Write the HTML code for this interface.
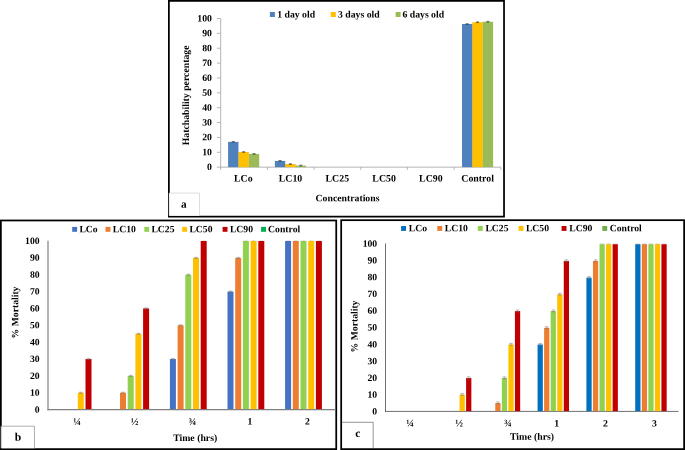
<!DOCTYPE html>
<html><head><meta charset="utf-8"><title>Figure</title>
<style>
html,body{margin:0;padding:0;background:#fff;}
body{width:685px;height:450px;overflow:hidden;}
svg{display:block;}
svg text{font-family:"Liberation Serif",serif;font-weight:bold;fill:#000;}
</style></head><body>
<svg width="685" height="450" viewBox="0 0 685 450">
<rect x="0" y="0" width="685" height="450" fill="#fff"/>
<defs><filter id="soft" x="0" y="0" width="1" height="1" color-interpolation-filters="sRGB"><feGaussianBlur stdDeviation="0.4"/></filter></defs>
<g filter="url(#soft)">
<rect x="168.88" y="0.88" width="335.15" height="215.75" fill="#fff" stroke="#000" stroke-width="1.75"/>
<rect x="0.88" y="220.47" width="335.35" height="228.65" fill="#fff" stroke="#000" stroke-width="1.75"/>
<rect x="341.18" y="220.18" width="342.95" height="228.95" fill="#fff" stroke="#000" stroke-width="1.75"/>
<line x1="220.70" y1="18.50" x2="220.70" y2="169.75" stroke="#adadad" stroke-width="0.9"/>
<line x1="216.90" y1="167.15" x2="500.80" y2="167.15" stroke="#adadad" stroke-width="0.9"/>
<text transform="translate(211.90,170.10) rotate(0.03)" font-size="9.75" text-anchor="end" >0</text>
<line x1="216.90" y1="152.28" x2="220.70" y2="152.28" stroke="#adadad" stroke-width="0.9"/>
<text transform="translate(211.90,155.23) rotate(0.03)" font-size="9.75" text-anchor="end" >10</text>
<line x1="216.90" y1="137.42" x2="220.70" y2="137.42" stroke="#adadad" stroke-width="0.9"/>
<text transform="translate(211.90,140.37) rotate(0.03)" font-size="9.75" text-anchor="end" >20</text>
<line x1="216.90" y1="122.56" x2="220.70" y2="122.56" stroke="#adadad" stroke-width="0.9"/>
<text transform="translate(211.90,125.51) rotate(0.03)" font-size="9.75" text-anchor="end" >30</text>
<line x1="216.90" y1="107.69" x2="220.70" y2="107.69" stroke="#adadad" stroke-width="0.9"/>
<text transform="translate(211.90,110.64) rotate(0.03)" font-size="9.75" text-anchor="end" >40</text>
<line x1="216.90" y1="92.83" x2="220.70" y2="92.83" stroke="#adadad" stroke-width="0.9"/>
<text transform="translate(211.90,95.78) rotate(0.03)" font-size="9.75" text-anchor="end" >50</text>
<line x1="216.90" y1="77.96" x2="220.70" y2="77.96" stroke="#adadad" stroke-width="0.9"/>
<text transform="translate(211.90,80.91) rotate(0.03)" font-size="9.75" text-anchor="end" >60</text>
<line x1="216.90" y1="63.09" x2="220.70" y2="63.09" stroke="#adadad" stroke-width="0.9"/>
<text transform="translate(211.90,66.05) rotate(0.03)" font-size="9.75" text-anchor="end" >70</text>
<line x1="216.90" y1="48.23" x2="220.70" y2="48.23" stroke="#adadad" stroke-width="0.9"/>
<text transform="translate(211.90,51.18) rotate(0.03)" font-size="9.75" text-anchor="end" >80</text>
<line x1="216.90" y1="33.36" x2="220.70" y2="33.36" stroke="#adadad" stroke-width="0.9"/>
<text transform="translate(211.90,36.31) rotate(0.03)" font-size="9.75" text-anchor="end" >90</text>
<line x1="216.90" y1="18.50" x2="220.70" y2="18.50" stroke="#adadad" stroke-width="0.9"/>
<text transform="translate(211.90,21.45) rotate(0.03)" font-size="9.75" text-anchor="end" >100</text>
<line x1="267.38" y1="167.15" x2="267.38" y2="169.75" stroke="#adadad" stroke-width="0.9"/>
<line x1="314.07" y1="167.15" x2="314.07" y2="169.75" stroke="#adadad" stroke-width="0.9"/>
<line x1="360.75" y1="167.15" x2="360.75" y2="169.75" stroke="#adadad" stroke-width="0.9"/>
<line x1="407.43" y1="167.15" x2="407.43" y2="169.75" stroke="#adadad" stroke-width="0.9"/>
<line x1="454.12" y1="167.15" x2="454.12" y2="169.75" stroke="#adadad" stroke-width="0.9"/>
<line x1="500.80" y1="167.15" x2="500.80" y2="169.75" stroke="#adadad" stroke-width="0.9"/>
<text transform="translate(243.35,181.60) rotate(0.03)" font-size="9.85" text-anchor="middle" >LCo</text>
<rect x="228.09" y="141.88" width="10.37" height="25.27" fill="#4F81BD"/>
<rect x="238.31" y="151.99" width="0.40" height="15.16" fill="#4F81BD"/>
<line x1="233.28" y1="141.48" x2="233.28" y2="142.28" stroke="#2a2a2a" stroke-width="0.5"/>
<line x1="231.73" y1="141.48" x2="234.83" y2="141.48" stroke="#2a2a2a" stroke-width="0.5"/>
<line x1="231.73" y1="142.28" x2="234.83" y2="142.28" stroke="#2a2a2a" stroke-width="0.5"/>
<rect x="238.47" y="151.99" width="10.37" height="15.16" fill="#FFC000"/>
<rect x="248.69" y="153.92" width="0.40" height="13.23" fill="#FFC000"/>
<line x1="243.65" y1="151.59" x2="243.65" y2="152.39" stroke="#2a2a2a" stroke-width="0.5"/>
<line x1="242.10" y1="151.59" x2="245.20" y2="151.59" stroke="#2a2a2a" stroke-width="0.5"/>
<line x1="242.10" y1="152.39" x2="245.20" y2="152.39" stroke="#2a2a2a" stroke-width="0.5"/>
<rect x="248.84" y="153.92" width="10.37" height="13.23" fill="#9BBB59"/>
<line x1="254.02" y1="153.52" x2="254.02" y2="154.32" stroke="#2a2a2a" stroke-width="0.5"/>
<line x1="252.47" y1="153.52" x2="255.57" y2="153.52" stroke="#2a2a2a" stroke-width="0.5"/>
<line x1="252.47" y1="154.32" x2="255.57" y2="154.32" stroke="#2a2a2a" stroke-width="0.5"/>
<text transform="translate(290.53,181.60) rotate(0.03)" font-size="9.85" text-anchor="middle" >LC10</text>
<rect x="274.88" y="160.91" width="10.37" height="6.24" fill="#4F81BD"/>
<rect x="285.10" y="164.03" width="0.40" height="3.12" fill="#4F81BD"/>
<line x1="280.06" y1="160.51" x2="280.06" y2="161.31" stroke="#2a2a2a" stroke-width="0.5"/>
<line x1="278.51" y1="160.51" x2="281.61" y2="160.51" stroke="#2a2a2a" stroke-width="0.5"/>
<line x1="278.51" y1="161.31" x2="281.61" y2="161.31" stroke="#2a2a2a" stroke-width="0.5"/>
<rect x="285.25" y="164.03" width="10.37" height="3.12" fill="#FFC000"/>
<rect x="295.47" y="165.51" width="0.40" height="1.64" fill="#FFC000"/>
<line x1="290.43" y1="163.63" x2="290.43" y2="164.43" stroke="#2a2a2a" stroke-width="0.5"/>
<line x1="288.88" y1="163.63" x2="291.98" y2="163.63" stroke="#2a2a2a" stroke-width="0.5"/>
<line x1="288.88" y1="164.43" x2="291.98" y2="164.43" stroke="#2a2a2a" stroke-width="0.5"/>
<rect x="295.62" y="165.51" width="10.37" height="1.64" fill="#9BBB59"/>
<line x1="300.80" y1="165.11" x2="300.80" y2="165.91" stroke="#2a2a2a" stroke-width="0.5"/>
<line x1="299.25" y1="165.11" x2="302.35" y2="165.11" stroke="#2a2a2a" stroke-width="0.5"/>
<line x1="299.25" y1="165.91" x2="302.35" y2="165.91" stroke="#2a2a2a" stroke-width="0.5"/>
<text transform="translate(337.31,181.60) rotate(0.03)" font-size="9.85" text-anchor="middle" >LC25</text>
<text transform="translate(384.09,181.60) rotate(0.03)" font-size="9.85" text-anchor="middle" >LC50</text>
<text transform="translate(430.87,181.60) rotate(0.03)" font-size="9.85" text-anchor="middle" >LC90</text>
<text transform="translate(477.65,181.60) rotate(0.03)" font-size="9.85" text-anchor="middle" >Control</text>
<rect x="462.00" y="24.00" width="10.37" height="143.15" fill="#4F81BD"/>
<rect x="472.22" y="24.00" width="0.40" height="143.15" fill="#4F81BD"/>
<line x1="467.18" y1="23.60" x2="467.18" y2="24.40" stroke="#2a2a2a" stroke-width="0.5"/>
<line x1="465.63" y1="23.60" x2="468.73" y2="23.60" stroke="#2a2a2a" stroke-width="0.5"/>
<line x1="465.63" y1="24.40" x2="468.73" y2="24.40" stroke="#2a2a2a" stroke-width="0.5"/>
<rect x="472.37" y="22.22" width="10.37" height="144.93" fill="#FFC000"/>
<rect x="482.59" y="22.22" width="0.40" height="144.93" fill="#FFC000"/>
<line x1="477.55" y1="21.82" x2="477.55" y2="22.62" stroke="#2a2a2a" stroke-width="0.5"/>
<line x1="476.00" y1="21.82" x2="479.10" y2="21.82" stroke="#2a2a2a" stroke-width="0.5"/>
<line x1="476.00" y1="22.62" x2="479.10" y2="22.62" stroke="#2a2a2a" stroke-width="0.5"/>
<rect x="482.74" y="21.77" width="10.37" height="145.38" fill="#9BBB59"/>
<line x1="487.92" y1="21.37" x2="487.92" y2="22.17" stroke="#2a2a2a" stroke-width="0.5"/>
<line x1="486.37" y1="21.37" x2="489.47" y2="21.37" stroke="#2a2a2a" stroke-width="0.5"/>
<line x1="486.37" y1="22.17" x2="489.47" y2="22.17" stroke="#2a2a2a" stroke-width="0.5"/>
<rect x="269.90" y="12.00" width="5.00" height="5.00" fill="#4F81BD"/>
<text transform="translate(277.20,17.40) rotate(0.03)" font-size="9.75" text-anchor="start" >1 day old</text>
<rect x="330.80" y="12.00" width="5.00" height="5.00" fill="#FFC000"/>
<text transform="translate(338.00,17.40) rotate(0.03)" font-size="9.75" text-anchor="start" >3 days old</text>
<rect x="395.60" y="12.00" width="5.00" height="5.00" fill="#9BBB59"/>
<text transform="translate(402.40,17.40) rotate(0.03)" font-size="9.75" text-anchor="start" >6 days old</text>
<text transform="translate(347.50,201.20) rotate(0.03)" font-size="9.75" text-anchor="middle" >Concentrations</text>
<text transform="translate(189.0,95.4) rotate(-89.97)" font-size="9.75" text-anchor="middle">Hatchability percentage</text>
<rect x="169.0" y="193.1" width="30.5" height="22.6" fill="#fff"/>
<polyline points="169.2,215.7 169.2,193.1 199.5,193.1 199.5,215.7" fill="none" stroke="#d0d0d0" stroke-width="0.7"/>
<text transform="translate(183.90,207.85) rotate(0.03)" font-size="11.3" text-anchor="middle" >a</text>
<line x1="48.00" y1="240.80" x2="48.00" y2="410.20" stroke="#808080" stroke-width="1.2"/>
<line x1="47.40" y1="409.60" x2="335.50" y2="409.60" stroke="#808080" stroke-width="1.2"/>
<text transform="translate(39.60,412.75) rotate(0.03)" font-size="9.7" text-anchor="end" >0</text>
<text transform="translate(39.60,395.87) rotate(0.03)" font-size="9.7" text-anchor="end" >10</text>
<text transform="translate(39.60,378.99) rotate(0.03)" font-size="9.7" text-anchor="end" >20</text>
<text transform="translate(39.60,362.11) rotate(0.03)" font-size="9.7" text-anchor="end" >30</text>
<text transform="translate(39.60,345.23) rotate(0.03)" font-size="9.7" text-anchor="end" >40</text>
<text transform="translate(39.60,328.35) rotate(0.03)" font-size="9.7" text-anchor="end" >50</text>
<text transform="translate(39.60,311.47) rotate(0.03)" font-size="9.7" text-anchor="end" >60</text>
<text transform="translate(39.60,294.59) rotate(0.03)" font-size="9.7" text-anchor="end" >70</text>
<text transform="translate(39.60,277.71) rotate(0.03)" font-size="9.7" text-anchor="end" >80</text>
<text transform="translate(39.60,260.83) rotate(0.03)" font-size="9.7" text-anchor="end" >90</text>
<text transform="translate(39.60,243.95) rotate(0.03)" font-size="9.7" text-anchor="end" >100</text>
<rect x="77.80" y="392.74" width="6.00" height="16.36" fill="#FFC000"/>
<line x1="80.80" y1="392.19" x2="80.80" y2="393.29" stroke="#7a7a7a" stroke-width="0.5"/>
<line x1="79.00" y1="392.19" x2="82.60" y2="392.19" stroke="#7a7a7a" stroke-width="0.5"/>
<line x1="79.00" y1="393.29" x2="82.60" y2="393.29" stroke="#7a7a7a" stroke-width="0.5"/>
<rect x="85.50" y="359.02" width="6.00" height="50.08" fill="#C00000"/>
<line x1="88.50" y1="358.47" x2="88.50" y2="359.57" stroke="#7a7a7a" stroke-width="0.5"/>
<line x1="86.70" y1="358.47" x2="90.30" y2="358.47" stroke="#7a7a7a" stroke-width="0.5"/>
<line x1="86.70" y1="359.57" x2="90.30" y2="359.57" stroke="#7a7a7a" stroke-width="0.5"/>
<rect x="120.00" y="392.74" width="6.00" height="16.36" fill="#ED7D31"/>
<line x1="123.00" y1="392.19" x2="123.00" y2="393.29" stroke="#7a7a7a" stroke-width="0.5"/>
<line x1="121.20" y1="392.19" x2="124.80" y2="392.19" stroke="#7a7a7a" stroke-width="0.5"/>
<line x1="121.20" y1="393.29" x2="124.80" y2="393.29" stroke="#7a7a7a" stroke-width="0.5"/>
<rect x="127.70" y="375.88" width="6.00" height="33.22" fill="#92D050"/>
<line x1="130.70" y1="375.33" x2="130.70" y2="376.43" stroke="#7a7a7a" stroke-width="0.5"/>
<line x1="128.90" y1="375.33" x2="132.50" y2="375.33" stroke="#7a7a7a" stroke-width="0.5"/>
<line x1="128.90" y1="376.43" x2="132.50" y2="376.43" stroke="#7a7a7a" stroke-width="0.5"/>
<rect x="135.40" y="333.73" width="6.00" height="75.37" fill="#FFC000"/>
<line x1="138.40" y1="333.18" x2="138.40" y2="334.28" stroke="#7a7a7a" stroke-width="0.5"/>
<line x1="136.60" y1="333.18" x2="140.20" y2="333.18" stroke="#7a7a7a" stroke-width="0.5"/>
<line x1="136.60" y1="334.28" x2="140.20" y2="334.28" stroke="#7a7a7a" stroke-width="0.5"/>
<rect x="143.10" y="308.44" width="6.00" height="100.66" fill="#C00000"/>
<line x1="146.10" y1="307.89" x2="146.10" y2="308.99" stroke="#7a7a7a" stroke-width="0.5"/>
<line x1="144.30" y1="307.89" x2="147.90" y2="307.89" stroke="#7a7a7a" stroke-width="0.5"/>
<line x1="144.30" y1="308.99" x2="147.90" y2="308.99" stroke="#7a7a7a" stroke-width="0.5"/>
<rect x="169.90" y="359.02" width="6.00" height="50.08" fill="#4472C4"/>
<line x1="172.90" y1="358.47" x2="172.90" y2="359.57" stroke="#7a7a7a" stroke-width="0.5"/>
<line x1="171.10" y1="358.47" x2="174.70" y2="358.47" stroke="#7a7a7a" stroke-width="0.5"/>
<line x1="171.10" y1="359.57" x2="174.70" y2="359.57" stroke="#7a7a7a" stroke-width="0.5"/>
<rect x="177.60" y="325.30" width="6.00" height="83.80" fill="#ED7D31"/>
<line x1="180.60" y1="324.75" x2="180.60" y2="325.85" stroke="#7a7a7a" stroke-width="0.5"/>
<line x1="178.80" y1="324.75" x2="182.40" y2="324.75" stroke="#7a7a7a" stroke-width="0.5"/>
<line x1="178.80" y1="325.85" x2="182.40" y2="325.85" stroke="#7a7a7a" stroke-width="0.5"/>
<rect x="185.30" y="274.72" width="6.00" height="134.38" fill="#92D050"/>
<line x1="188.30" y1="274.17" x2="188.30" y2="275.27" stroke="#7a7a7a" stroke-width="0.5"/>
<line x1="186.50" y1="274.17" x2="190.10" y2="274.17" stroke="#7a7a7a" stroke-width="0.5"/>
<line x1="186.50" y1="275.27" x2="190.10" y2="275.27" stroke="#7a7a7a" stroke-width="0.5"/>
<rect x="193.00" y="257.86" width="6.00" height="151.24" fill="#FFC000"/>
<line x1="196.00" y1="257.31" x2="196.00" y2="258.41" stroke="#7a7a7a" stroke-width="0.5"/>
<line x1="194.20" y1="257.31" x2="197.80" y2="257.31" stroke="#7a7a7a" stroke-width="0.5"/>
<line x1="194.20" y1="258.41" x2="197.80" y2="258.41" stroke="#7a7a7a" stroke-width="0.5"/>
<rect x="200.70" y="241.00" width="6.00" height="168.10" fill="#C00000"/>
<line x1="201.90" y1="240.75" x2="205.50" y2="240.75" stroke="rgba(90,90,90,0.45)" stroke-width="0.5"/>
<rect x="227.50" y="291.58" width="6.00" height="117.52" fill="#4472C4"/>
<line x1="230.50" y1="291.03" x2="230.50" y2="292.13" stroke="#7a7a7a" stroke-width="0.5"/>
<line x1="228.70" y1="291.03" x2="232.30" y2="291.03" stroke="#7a7a7a" stroke-width="0.5"/>
<line x1="228.70" y1="292.13" x2="232.30" y2="292.13" stroke="#7a7a7a" stroke-width="0.5"/>
<rect x="235.20" y="257.86" width="6.00" height="151.24" fill="#ED7D31"/>
<line x1="238.20" y1="257.31" x2="238.20" y2="258.41" stroke="#7a7a7a" stroke-width="0.5"/>
<line x1="236.40" y1="257.31" x2="240.00" y2="257.31" stroke="#7a7a7a" stroke-width="0.5"/>
<line x1="236.40" y1="258.41" x2="240.00" y2="258.41" stroke="#7a7a7a" stroke-width="0.5"/>
<rect x="242.90" y="241.00" width="6.00" height="168.10" fill="#92D050"/>
<line x1="244.10" y1="240.75" x2="247.70" y2="240.75" stroke="rgba(90,90,90,0.45)" stroke-width="0.5"/>
<rect x="250.60" y="241.00" width="6.00" height="168.10" fill="#FFC000"/>
<line x1="251.80" y1="240.75" x2="255.40" y2="240.75" stroke="rgba(90,90,90,0.45)" stroke-width="0.5"/>
<rect x="258.30" y="241.00" width="6.00" height="168.10" fill="#C00000"/>
<line x1="259.50" y1="240.75" x2="263.10" y2="240.75" stroke="rgba(90,90,90,0.45)" stroke-width="0.5"/>
<rect x="285.10" y="241.00" width="6.00" height="168.10" fill="#4472C4"/>
<line x1="286.30" y1="240.75" x2="289.90" y2="240.75" stroke="rgba(90,90,90,0.45)" stroke-width="0.5"/>
<rect x="292.80" y="241.00" width="6.00" height="168.10" fill="#ED7D31"/>
<line x1="294.00" y1="240.75" x2="297.60" y2="240.75" stroke="rgba(90,90,90,0.45)" stroke-width="0.5"/>
<rect x="300.50" y="241.00" width="6.00" height="168.10" fill="#92D050"/>
<line x1="301.70" y1="240.75" x2="305.30" y2="240.75" stroke="rgba(90,90,90,0.45)" stroke-width="0.5"/>
<rect x="308.20" y="241.00" width="6.00" height="168.10" fill="#FFC000"/>
<line x1="309.40" y1="240.75" x2="313.00" y2="240.75" stroke="rgba(90,90,90,0.45)" stroke-width="0.5"/>
<rect x="315.90" y="241.00" width="6.00" height="168.10" fill="#C00000"/>
<line x1="317.10" y1="240.75" x2="320.70" y2="240.75" stroke="rgba(90,90,90,0.45)" stroke-width="0.5"/>
<text transform="translate(77.10,425.10) rotate(0.03)" font-size="10.3" text-anchor="middle" >¼</text>
<text transform="translate(134.70,425.10) rotate(0.03)" font-size="10.3" text-anchor="middle" >½</text>
<text transform="translate(192.30,425.10) rotate(0.03)" font-size="10.3" text-anchor="middle" >¾</text>
<text transform="translate(249.90,424.60) rotate(0.03)" font-size="9.7" text-anchor="middle" >1</text>
<text transform="translate(307.50,424.60) rotate(0.03)" font-size="9.7" text-anchor="middle" >2</text>
<text transform="translate(195.20,440.90) rotate(0.03)" font-size="9.78" text-anchor="middle" >Time (hrs)</text>
<text transform="translate(18.2,312.5) rotate(-89.97)" font-size="9.7" text-anchor="middle">% Mortality</text>
<rect x="72.20" y="226.90" width="4.90" height="4.90" fill="#4472C4"/>
<text transform="translate(79.40,232.30) rotate(0.03)" font-size="9.7" text-anchor="start" >LCo</text>
<rect x="105.50" y="226.90" width="4.90" height="4.90" fill="#ED7D31"/>
<text transform="translate(112.70,232.30) rotate(0.03)" font-size="9.7" text-anchor="start" >LC10</text>
<rect x="144.30" y="226.90" width="4.90" height="4.90" fill="#92D050"/>
<text transform="translate(151.40,232.30) rotate(0.03)" font-size="9.7" text-anchor="start" >LC25</text>
<rect x="182.20" y="226.90" width="4.90" height="4.90" fill="#FFC000"/>
<text transform="translate(189.40,232.30) rotate(0.03)" font-size="9.7" text-anchor="start" >LC50</text>
<rect x="222.60" y="226.90" width="4.90" height="4.90" fill="#C00000"/>
<text transform="translate(229.90,232.30) rotate(0.03)" font-size="9.7" text-anchor="start" >LC90</text>
<rect x="261.10" y="226.90" width="4.90" height="4.90" fill="#00B050"/>
<text transform="translate(268.10,232.30) rotate(0.03)" font-size="9.7" text-anchor="start" >Control</text>
<rect x="0.9" y="426.2" width="33.6" height="22.05" fill="#fff"/>
<polyline points="1.1,448.2 1.1,426.2 34.45,426.2 34.45,448.2" fill="none" stroke="#8a8a8a" stroke-width="0.7"/>
<text transform="translate(17.90,440.70) rotate(0.03)" font-size="11.7" text-anchor="middle" >b</text>
<line x1="385.50" y1="243.50" x2="385.50" y2="411.77" stroke="#404040" stroke-width="0.75"/>
<line x1="385.12" y1="411.40" x2="678.50" y2="411.40" stroke="#404040" stroke-width="0.75"/>
<text transform="translate(377.20,414.55) rotate(0.03)" font-size="9.7" text-anchor="end" >0</text>
<text transform="translate(377.20,397.76) rotate(0.03)" font-size="9.7" text-anchor="end" >10</text>
<text transform="translate(377.20,380.97) rotate(0.03)" font-size="9.7" text-anchor="end" >20</text>
<text transform="translate(377.20,364.18) rotate(0.03)" font-size="9.7" text-anchor="end" >30</text>
<text transform="translate(377.20,347.39) rotate(0.03)" font-size="9.7" text-anchor="end" >40</text>
<text transform="translate(377.20,330.60) rotate(0.03)" font-size="9.7" text-anchor="end" >50</text>
<text transform="translate(377.20,313.81) rotate(0.03)" font-size="9.7" text-anchor="end" >60</text>
<text transform="translate(377.20,297.02) rotate(0.03)" font-size="9.7" text-anchor="end" >70</text>
<text transform="translate(377.20,280.23) rotate(0.03)" font-size="9.7" text-anchor="end" >80</text>
<text transform="translate(377.20,263.44) rotate(0.03)" font-size="9.7" text-anchor="end" >90</text>
<text transform="translate(377.20,246.65) rotate(0.03)" font-size="9.7" text-anchor="end" >100</text>
<rect x="459.55" y="394.68" width="5.25" height="16.45" fill="#FFC000"/>
<line x1="462.17" y1="393.58" x2="462.17" y2="395.38" stroke="#7a7a7a" stroke-width="0.5"/>
<line x1="460.37" y1="393.58" x2="463.97" y2="393.58" stroke="#7a7a7a" stroke-width="0.5"/>
<line x1="460.37" y1="395.38" x2="463.97" y2="395.38" stroke="#7a7a7a" stroke-width="0.5"/>
<rect x="466.10" y="377.96" width="5.25" height="33.16" fill="#C00000"/>
<line x1="468.72" y1="376.86" x2="468.72" y2="378.66" stroke="#7a7a7a" stroke-width="0.5"/>
<line x1="466.92" y1="376.86" x2="470.52" y2="376.86" stroke="#7a7a7a" stroke-width="0.5"/>
<line x1="466.92" y1="378.66" x2="470.52" y2="378.66" stroke="#7a7a7a" stroke-width="0.5"/>
<rect x="495.28" y="403.04" width="5.25" height="8.08" fill="#ED7D31"/>
<line x1="497.91" y1="401.94" x2="497.91" y2="403.74" stroke="#7a7a7a" stroke-width="0.5"/>
<line x1="496.11" y1="401.94" x2="499.71" y2="401.94" stroke="#7a7a7a" stroke-width="0.5"/>
<line x1="496.11" y1="403.74" x2="499.71" y2="403.74" stroke="#7a7a7a" stroke-width="0.5"/>
<rect x="501.83" y="377.96" width="5.25" height="33.16" fill="#92D050"/>
<line x1="504.46" y1="376.86" x2="504.46" y2="378.66" stroke="#7a7a7a" stroke-width="0.5"/>
<line x1="502.66" y1="376.86" x2="506.26" y2="376.86" stroke="#7a7a7a" stroke-width="0.5"/>
<line x1="502.66" y1="378.66" x2="506.26" y2="378.66" stroke="#7a7a7a" stroke-width="0.5"/>
<rect x="508.38" y="344.52" width="5.25" height="66.60" fill="#FFC000"/>
<line x1="511.01" y1="343.42" x2="511.01" y2="345.22" stroke="#7a7a7a" stroke-width="0.5"/>
<line x1="509.21" y1="343.42" x2="512.81" y2="343.42" stroke="#7a7a7a" stroke-width="0.5"/>
<line x1="509.21" y1="345.22" x2="512.81" y2="345.22" stroke="#7a7a7a" stroke-width="0.5"/>
<rect x="514.93" y="311.08" width="5.25" height="100.04" fill="#C00000"/>
<line x1="517.56" y1="309.98" x2="517.56" y2="311.78" stroke="#7a7a7a" stroke-width="0.5"/>
<line x1="515.76" y1="309.98" x2="519.36" y2="309.98" stroke="#7a7a7a" stroke-width="0.5"/>
<line x1="515.76" y1="311.78" x2="519.36" y2="311.78" stroke="#7a7a7a" stroke-width="0.5"/>
<rect x="537.57" y="344.52" width="5.25" height="66.60" fill="#0070C0"/>
<line x1="540.19" y1="343.42" x2="540.19" y2="345.22" stroke="#7a7a7a" stroke-width="0.5"/>
<line x1="538.39" y1="343.42" x2="541.99" y2="343.42" stroke="#7a7a7a" stroke-width="0.5"/>
<line x1="538.39" y1="345.22" x2="541.99" y2="345.22" stroke="#7a7a7a" stroke-width="0.5"/>
<rect x="544.12" y="327.80" width="5.25" height="83.32" fill="#ED7D31"/>
<line x1="546.74" y1="326.70" x2="546.74" y2="328.50" stroke="#7a7a7a" stroke-width="0.5"/>
<line x1="544.94" y1="326.70" x2="548.54" y2="326.70" stroke="#7a7a7a" stroke-width="0.5"/>
<line x1="544.94" y1="328.50" x2="548.54" y2="328.50" stroke="#7a7a7a" stroke-width="0.5"/>
<rect x="550.67" y="311.08" width="5.25" height="100.04" fill="#92D050"/>
<line x1="553.29" y1="309.98" x2="553.29" y2="311.78" stroke="#7a7a7a" stroke-width="0.5"/>
<line x1="551.49" y1="309.98" x2="555.09" y2="309.98" stroke="#7a7a7a" stroke-width="0.5"/>
<line x1="551.49" y1="311.78" x2="555.09" y2="311.78" stroke="#7a7a7a" stroke-width="0.5"/>
<rect x="557.22" y="294.36" width="5.25" height="116.76" fill="#FFC000"/>
<line x1="559.84" y1="293.26" x2="559.84" y2="295.06" stroke="#7a7a7a" stroke-width="0.5"/>
<line x1="558.04" y1="293.26" x2="561.64" y2="293.26" stroke="#7a7a7a" stroke-width="0.5"/>
<line x1="558.04" y1="295.06" x2="561.64" y2="295.06" stroke="#7a7a7a" stroke-width="0.5"/>
<rect x="563.77" y="260.92" width="5.25" height="150.20" fill="#C00000"/>
<line x1="566.39" y1="259.82" x2="566.39" y2="261.62" stroke="#7a7a7a" stroke-width="0.5"/>
<line x1="564.59" y1="259.82" x2="568.19" y2="259.82" stroke="#7a7a7a" stroke-width="0.5"/>
<line x1="564.59" y1="261.62" x2="568.19" y2="261.62" stroke="#7a7a7a" stroke-width="0.5"/>
<rect x="586.40" y="277.64" width="5.25" height="133.48" fill="#0070C0"/>
<line x1="589.02" y1="276.54" x2="589.02" y2="278.34" stroke="#7a7a7a" stroke-width="0.5"/>
<line x1="587.23" y1="276.54" x2="590.82" y2="276.54" stroke="#7a7a7a" stroke-width="0.5"/>
<line x1="587.23" y1="278.34" x2="590.82" y2="278.34" stroke="#7a7a7a" stroke-width="0.5"/>
<rect x="592.95" y="260.92" width="5.25" height="150.20" fill="#ED7D31"/>
<line x1="595.57" y1="259.82" x2="595.57" y2="261.62" stroke="#7a7a7a" stroke-width="0.5"/>
<line x1="593.77" y1="259.82" x2="597.37" y2="259.82" stroke="#7a7a7a" stroke-width="0.5"/>
<line x1="593.77" y1="261.62" x2="597.37" y2="261.62" stroke="#7a7a7a" stroke-width="0.5"/>
<rect x="599.50" y="244.20" width="5.25" height="166.92" fill="#92D050"/>
<line x1="600.33" y1="243.95" x2="603.92" y2="243.95" stroke="rgba(120,120,120,0.7)" stroke-width="0.5"/>
<rect x="606.05" y="244.20" width="5.25" height="166.92" fill="#FFC000"/>
<line x1="606.88" y1="243.95" x2="610.47" y2="243.95" stroke="rgba(120,120,120,0.7)" stroke-width="0.5"/>
<rect x="612.60" y="244.20" width="5.25" height="166.92" fill="#C00000"/>
<line x1="613.43" y1="243.95" x2="617.02" y2="243.95" stroke="rgba(120,120,120,0.7)" stroke-width="0.5"/>
<rect x="635.23" y="244.20" width="5.25" height="166.92" fill="#0070C0"/>
<line x1="636.06" y1="243.95" x2="639.66" y2="243.95" stroke="rgba(120,120,120,0.7)" stroke-width="0.5"/>
<rect x="641.78" y="244.20" width="5.25" height="166.92" fill="#ED7D31"/>
<line x1="642.61" y1="243.95" x2="646.21" y2="243.95" stroke="rgba(120,120,120,0.7)" stroke-width="0.5"/>
<rect x="648.33" y="244.20" width="5.25" height="166.92" fill="#92D050"/>
<line x1="649.16" y1="243.95" x2="652.76" y2="243.95" stroke="rgba(120,120,120,0.7)" stroke-width="0.5"/>
<rect x="654.88" y="244.20" width="5.25" height="166.92" fill="#FFC000"/>
<line x1="655.71" y1="243.95" x2="659.31" y2="243.95" stroke="rgba(120,120,120,0.7)" stroke-width="0.5"/>
<rect x="661.43" y="244.20" width="5.25" height="166.92" fill="#C00000"/>
<line x1="662.26" y1="243.95" x2="665.86" y2="243.95" stroke="rgba(120,120,120,0.7)" stroke-width="0.5"/>
<text transform="translate(410.22,426.60) rotate(0.03)" font-size="10.3" text-anchor="middle" >¼</text>
<text transform="translate(459.05,426.60) rotate(0.03)" font-size="10.3" text-anchor="middle" >½</text>
<text transform="translate(507.88,426.60) rotate(0.03)" font-size="10.3" text-anchor="middle" >¾</text>
<text transform="translate(556.72,426.60) rotate(0.03)" font-size="9.8" text-anchor="middle" >1</text>
<text transform="translate(605.55,426.60) rotate(0.03)" font-size="9.8" text-anchor="middle" >2</text>
<text transform="translate(654.38,426.60) rotate(0.03)" font-size="9.8" text-anchor="middle" >3</text>
<text transform="translate(532.00,439.80) rotate(0.03)" font-size="9.8" text-anchor="middle" >Time (hrs)</text>
<text transform="translate(357.6,326.5) rotate(-89.97)" font-size="9.7" text-anchor="middle">% Mortality</text>
<rect x="401.10" y="226.00" width="4.90" height="4.90" fill="#0070C0"/>
<text transform="translate(408.80,231.20) rotate(0.03)" font-size="9.7" text-anchor="start" >LCo</text>
<rect x="437.30" y="226.00" width="4.90" height="4.90" fill="#ED7D31"/>
<text transform="translate(444.80,231.20) rotate(0.03)" font-size="9.7" text-anchor="start" >LC10</text>
<rect x="477.80" y="226.00" width="4.90" height="4.90" fill="#92D050"/>
<text transform="translate(485.40,231.20) rotate(0.03)" font-size="9.7" text-anchor="start" >LC25</text>
<rect x="518.60" y="226.00" width="4.90" height="4.90" fill="#FFC000"/>
<text transform="translate(525.90,231.20) rotate(0.03)" font-size="9.7" text-anchor="start" >LC50</text>
<rect x="561.60" y="226.00" width="4.90" height="4.90" fill="#C00000"/>
<text transform="translate(569.30,231.20) rotate(0.03)" font-size="9.7" text-anchor="start" >LC90</text>
<rect x="602.30" y="226.00" width="4.90" height="4.90" fill="#70AD47"/>
<text transform="translate(609.70,231.20) rotate(0.03)" font-size="9.7" text-anchor="start" >Control</text>
<polyline points="342.0,422.3 373.2,422.3 373.2,448.2" fill="none" stroke="#666" stroke-width="0.7"/>
<text transform="translate(357.90,436.90) rotate(0.03)" font-size="11.6" text-anchor="middle" >c</text>
</g>
</svg>
</body></html>
